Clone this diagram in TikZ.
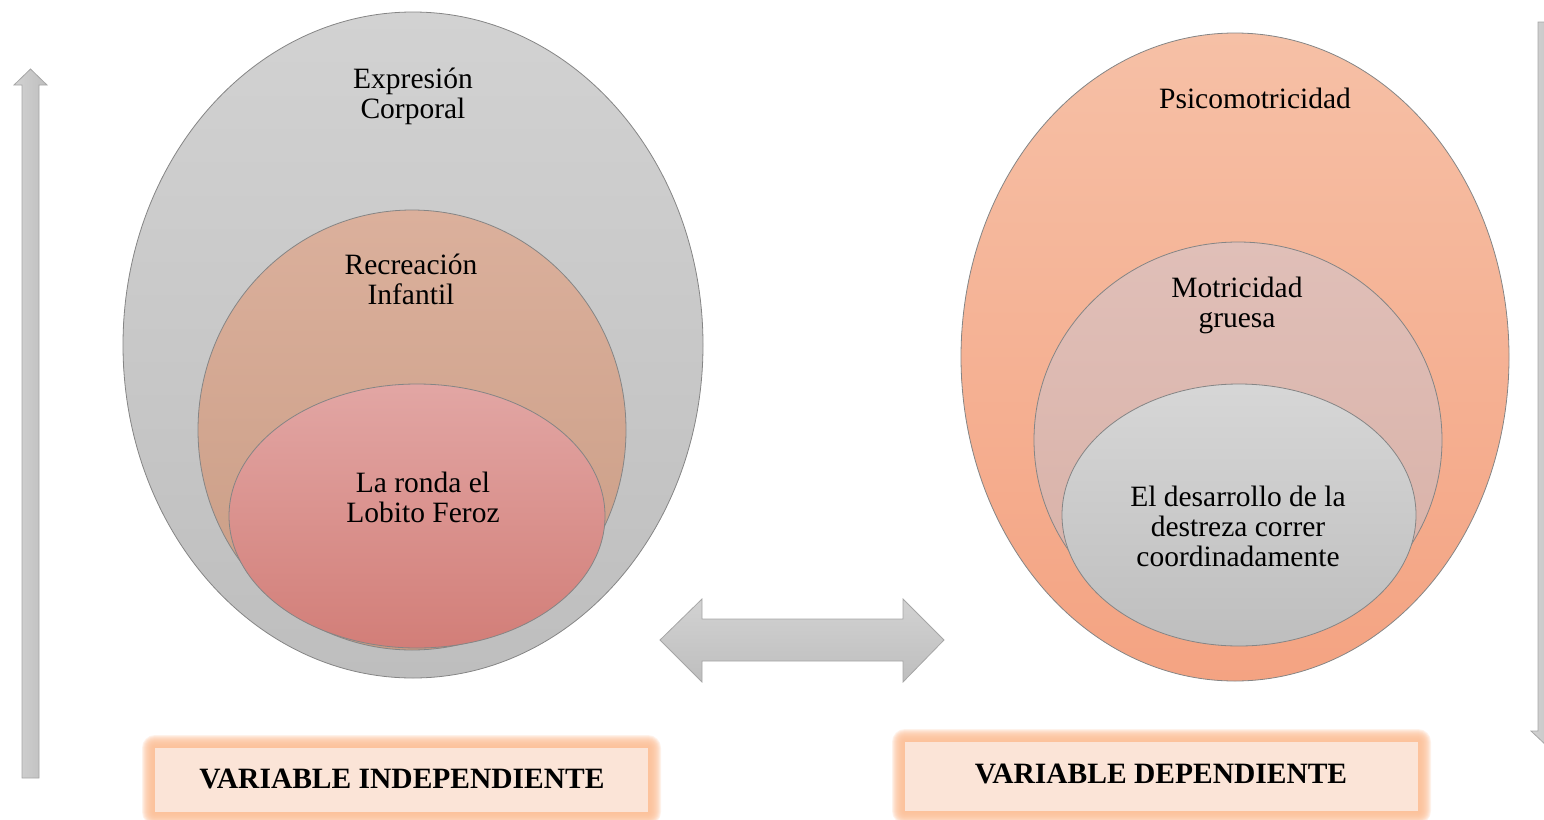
\documentclass[tikz,border=0pt]{standalone}
\usepackage{fontspec}
\setmainfont{Liberation Serif}
\definecolor{grayA}{HTML}{D2D2D2}
\definecolor{grayB}{HTML}{BEBEBE}
\definecolor{edgeG}{HTML}{A6A6A6}
\definecolor{tanA}{HTML}{DBB09C}
\definecolor{tanB}{HTML}{C99C84}
\definecolor{pinkA}{HTML}{E2A6A4}
\definecolor{pinkB}{HTML}{D27E78}
\definecolor{salA}{HTML}{F6C0A6}
\definecolor{salB}{HTML}{F4A382}
\definecolor{mauA}{HTML}{E0BFB8}
\definecolor{mauB}{HTML}{D8B0A6}
\definecolor{boxFill}{HTML}{FBE4D7}
\definecolor{glow}{HTML}{FCBE96}
\begin{document}
\begin{tikzpicture}[x=1pt,y=-1pt,
  lbl/.style={align=center,font=\fontsize{29.5}{30}\selectfont,inner sep=0pt},
  blbl/.style={font=\fontsize{29.5}{30}\selectfont\bfseries,inner sep=0pt},
  blockarrow/.style={draw=edgeG,line width=0.8pt,top color=grayA,bottom color=grayB},
  ell/.style={draw=edgeG!80!black,line width=0.8pt}]
\useasboundingbox (0,0) rectangle (1544,819);
\begin{scope}
\clip (0,0) rectangle (1544,819);
% side arrows
\path[blockarrow,left color=grayA,right color=grayB] (22,778) -- (22,85) -- (14,85) -- (30.5,69) -- (47,85) -- (39,85) -- (39,778) -- cycle;
\path[blockarrow,left color=grayA,right color=grayB] (1538,22) -- (1538,731) -- (1531,731) -- (1548,747) -- (1565,731) -- (1558,731) -- (1558,22) -- cycle;
% double arrow
\path[blockarrow] (660,640) -- (702,599) -- (702,619) -- (903,619) -- (903,599) -- (944,640) -- (903,682) -- (903,661) -- (702,661) -- (702,682) -- cycle;
% left ellipses
\shade[ell,top color=grayA,bottom color=grayB] (413,345) ellipse [x radius=290,y radius=333];
\shade[ell,top color=tanA,bottom color=tanB] (412,430) ellipse [x radius=214,y radius=220];
\shade[ell,top color=pinkA,bottom color=pinkB] (417,516) ellipse [x radius=188,y radius=132];
% right ellipses
\shade[ell,top color=salA,bottom color=salB] (1235,357) ellipse [x radius=274,y radius=324];
\shade[ell,top color=mauA,bottom color=mauB] (1238,440) ellipse [x radius=204,y radius=198];
\shade[ell,top color=grayA!90!white,bottom color=grayB] (1239,515) ellipse [x radius=177,y radius=131];
% glow boxes
\foreach \w in {1,2,...,13}{
  \fill[glow,opacity=0.2,rounded corners=\w pt] (155-\w,748-\w) rectangle (648+\w,812+\w);
  \fill[glow,opacity=0.2,rounded corners=\w pt] (905-\w,742-\w) rectangle (1418+\w,811+\w);
}
\fill[boxFill] (155,748) rectangle (648,812);
\fill[boxFill] (905,742) rectangle (1418,811);
\end{scope}
% texts
\node[lbl] (ec) at (413,96) {Expresión\\Corporal};
\node[lbl] (ri) at (411,279) {Recreación\\Infantil};
\node[lbl] (lr) at (423,497) {La ronda el\\Lobito Feroz};
\node[lbl] (ps) at (1255,98) {Psicomotricidad};
\node[lbl] (mg) at (1237,305) {Motricidad\\gruesa};
\node[lbl] (dd) at (1238,526) {El desarrollo de la\\destreza correr\\coordinadamente};
\node[blbl] (vi) at (402,779) {VARIABLE INDEPENDIENTE};
\node[blbl] (vd) at (1161,774) {VARIABLE DEPENDIENTE};
\end{tikzpicture}
\end{document}
